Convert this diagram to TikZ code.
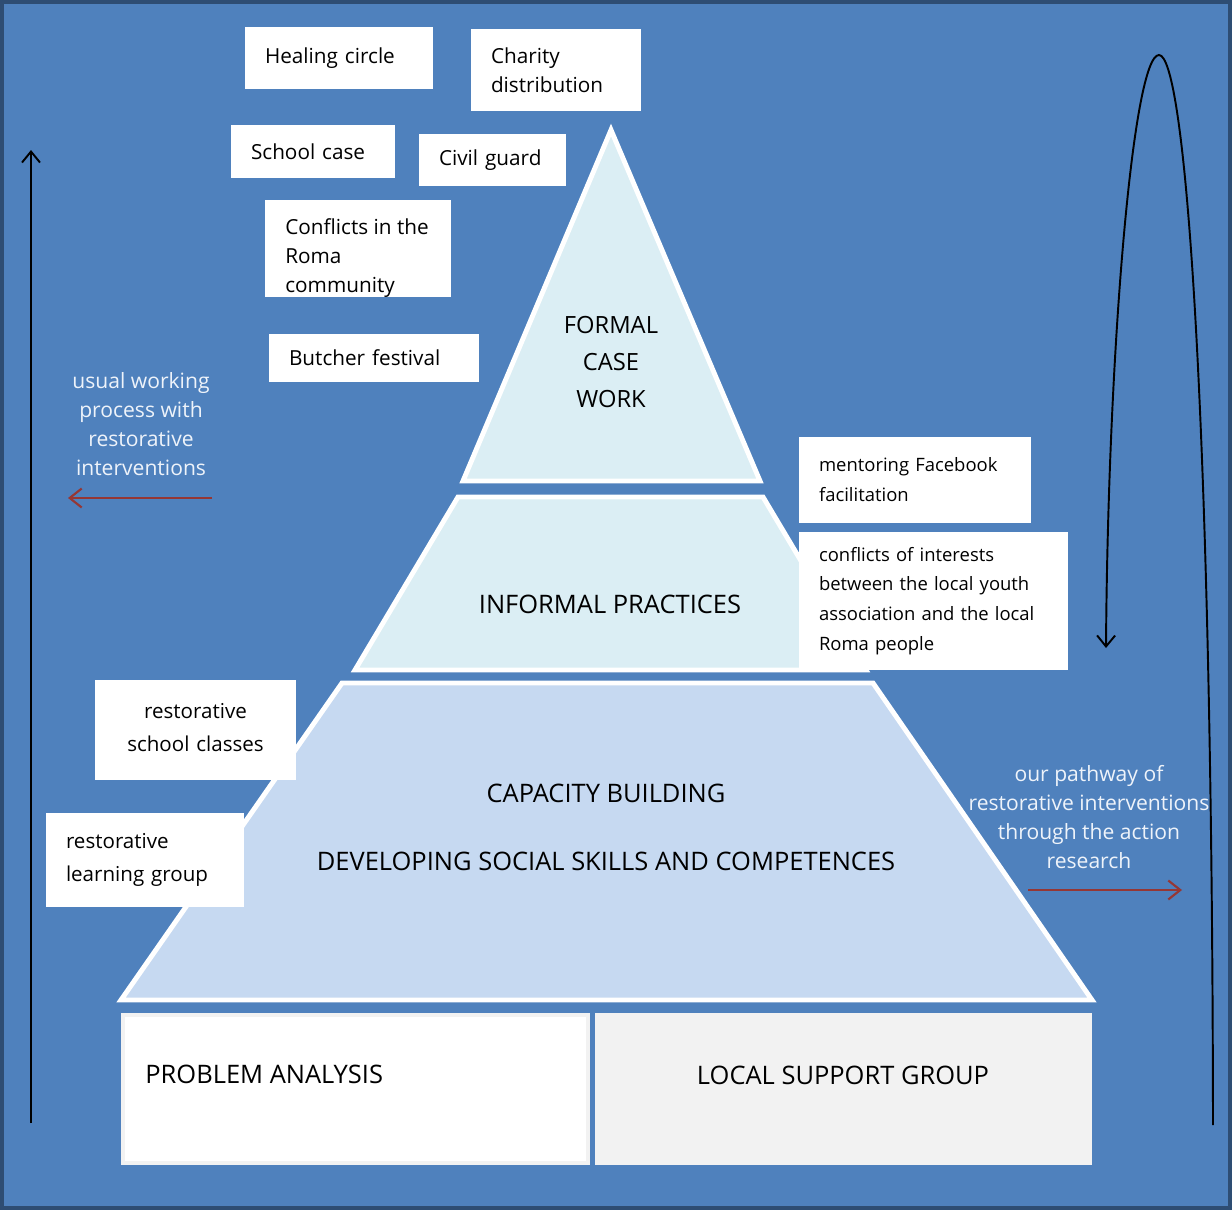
\documentclass[tikz,border=0pt]{standalone}
\usepackage{fontspec}
\setmainfont{Open Sans}
\usepackage{xcolor}
\usepackage{tikz}
\usetikzlibrary{arrows.meta,positioning}
\definecolor{bgblue}{HTML}{4F81BD}
\definecolor{frameblue}{HTML}{2E4D73}
\definecolor{paleblue}{HTML}{DBEEF4}
\definecolor{midblue}{HTML}{C6D9F1}
\definecolor{lightgray}{HTML}{F2F2F2}
\definecolor{arrowred}{HTML}{953735}
\definecolor{notewhite}{HTML}{EEF3FA}
\begin{document}
\begin{tikzpicture}[x=0.02cm, y=-0.02cm,
  tag/.style={fill=white, inner xsep=0.4cm, inner ysep=0pt, align=left, text=black, font=\fontsize{11.8}{16.5}\selectfont},
  smalltag/.style={tag, font=\fontsize{10.5}{17}\selectfont},
  widetag/.style={tag, font=\fontsize{11.7}{18.8}\selectfont},
  level/.style={draw=white, line width=2.8pt, line join=miter},
  big/.style={font=\fontsize{14.5}{21.3}\selectfont, text=black, inner sep=0pt},
  apex/.style={big, font=\fontsize{13.5}{21.3}\selectfont, align=center},
  note/.style={text=notewhite, align=center, font=\fontsize{12}{16.5}\selectfont},
  redarrow/.style={draw=arrowred, line width=1.2pt, -{Straight Barb[length=2.4mm, width=3.8mm]}},
  blackarrow/.style={draw=black, line width=1.1pt, -{Straight Barb[length=2.2mm, width=3.6mm]}}]
\useasboundingbox (0,0) rectangle (1232,1210);
\fill[bgblue] (0,0) rectangle (1232,1210);
\draw[frameblue, line width=2.3pt] (2,2) rectangle (1230,1208);

% pyramid levels
\draw[level, fill=paleblue] (611,130) -- (760,481) -- (463,481) -- cycle;
\draw[level, fill=paleblue] (458,497) -- (763,497) -- (866,670) -- (355,670) -- cycle;
\draw[level, fill=midblue] (342,683) -- (873,683) -- (1092,1000) -- (121,1000) -- cycle;

\node[apex] (formal) at (611,362) {FORMAL\\CASE\\WORK};
\node[big] (informal) at (610,604) {INFORMAL PRACTICES};
\node[big] (capacity) at (606,793) {CAPACITY BUILDING};
\node[big] (skills) at (606,861) {DEVELOPING SOCIAL SKILLS AND COMPETENCES};

% base
\draw[lightgray, line width=2.8pt, fill=white] (123,1015) rectangle (588,1163);
\fill[lightgray] (595,1013) rectangle (1092,1165);
\node[big, anchor=west] (problem) at (145,1074) {PROBLEM ANALYSIS};
\node[big] (support) at (843,1075) {LOCAL SUPPORT GROUP};

% examples
\node[tag, text width=2.96cm, minimum height=1.24cm] (healing) at (339,58) {Healing circle};
\node[tag, text width=2.6cm, minimum height=1.64cm] (charity) at (556,70) {Charity\\distribution};
\node[tag, text width=2.48cm, minimum height=1.06cm] (school) at (313,151.5) {School case};
\node[tag, text width=2.14cm, minimum height=1.04cm] (civil) at (492.5,160) {Civil guard};
\fill[white] (265,200) rectangle (451,297);
\begin{scope}
  \clip (265,200) rectangle (451,297);
  \node[tag, fill=none, anchor=north west, inner sep=0pt] (roma) at (285,218) {Conflicts in the\\Roma\\community};
\end{scope}
\node[tag, text width=3.4cm, minimum height=0.96cm] (butcher) at (374,358) {Butcher festival};
\node[smalltag, text width=3.84cm, minimum height=1.72cm] (mentor) at (915,480) {mentoring Facebook\\facilitation};
\node[smalltag, text width=4.58cm, minimum height=2.76cm] (interests) at (933.5,601) {conflicts of interests\\between the local youth\\association and the local\\Roma people};
\node[widetag, align=center, text width=3.22cm, minimum height=1.92cm] (classes) at (195.5,728) {restorative\\school classes};
\node[widetag, text width=3.16cm, minimum height=1.88cm] (learning) at (145,860) {restorative\\learning group};
\fill[white] (95,776) rectangle (296,780);

% side notes
\node[note] (usual) at (141,424) {usual working\\process with\\restorative\\interventions};
\node[note] (pathway) at (1089,817.5) {our pathway of\\restorative interventions\\through the action\\research};

\coordinate (usualR) at (212,498);
\coordinate (usualL) at (68,498);
\draw[redarrow] (usualR) -- (usualL);
\coordinate (pathL) at (1028,890);
\coordinate (pathR) at (1182,890);
\draw[redarrow] (pathL) -- (pathR);

% process arrows
\coordinate (upB) at (31,1123);
\coordinate (upT) at (31,150);
\draw[blackarrow] (upB) -- (upT);
\coordinate (arcTop) at (1159,55);
\coordinate (arcEnd) at (1106,648);
\coordinate (arcStart) at (1213,1125);
\draw[blackarrow] (arcStart) .. controls (1212,400) and (1185,55) .. (arcTop)
  .. controls (1133,55) and (1108,350) .. (arcEnd);
\end{tikzpicture}
\end{document}
